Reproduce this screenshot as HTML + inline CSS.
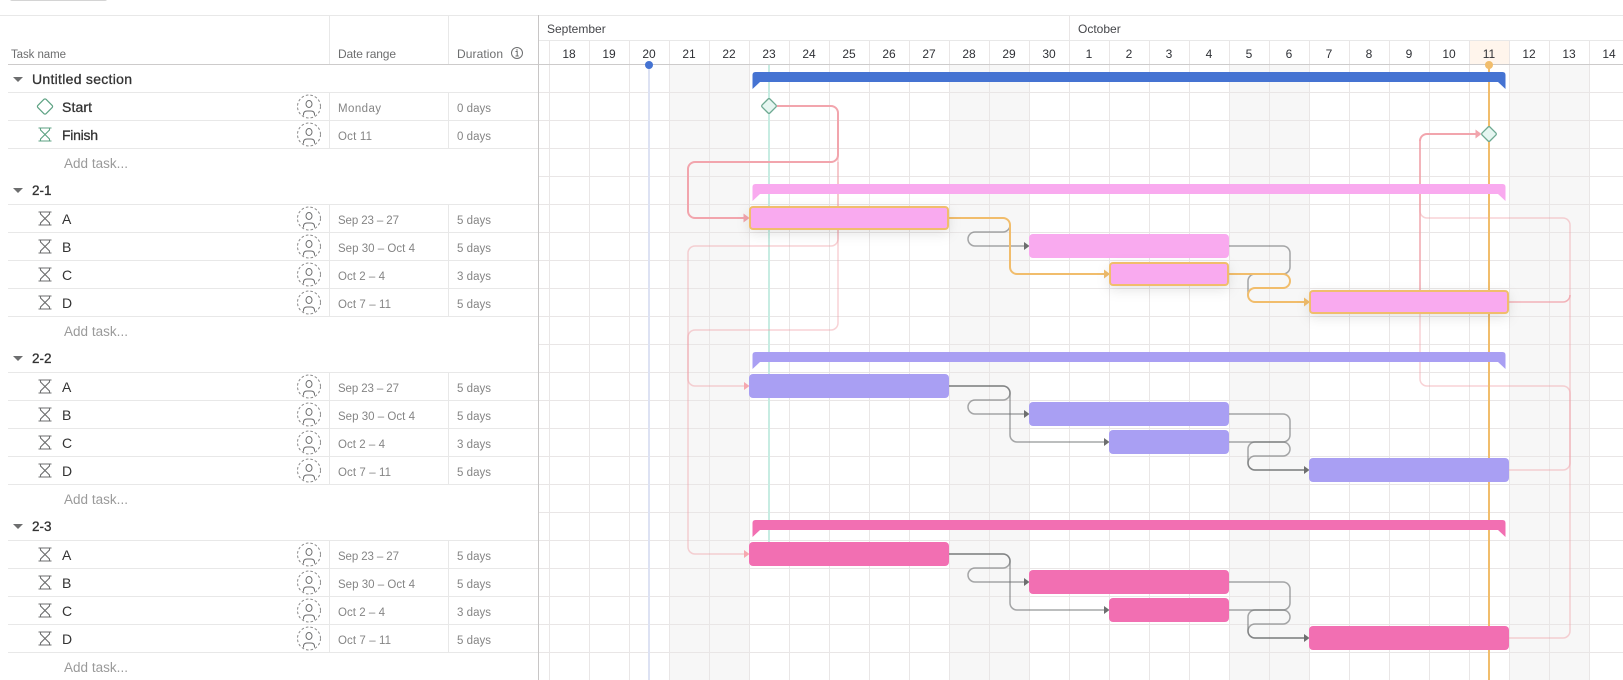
<!DOCTYPE html>
<html><head><meta charset="utf-8"><title>Gantt</title>
<style>
html,body{margin:0;padding:0;background:#fff;width:1623px;height:680px;overflow:hidden}
svg{display:block;font-family:"Liberation Sans",sans-serif}
.h{font-size:12px;fill:#6d6e6f}
.d{font-size:11.5px;fill:#858585}
.n{font-size:14px;fill:#333}
.s{font-size:14px;fill:#333;stroke:#333;stroke-width:.3px}
.s2{font-size:13.5px;fill:#333;stroke:#333;stroke-width:.3px}
.add{font-size:13.5px;fill:#9a9a9a}
.day{font-size:12px;fill:#2f3136;text-anchor:middle}
.lp{fill:none;stroke:#f0a0a8;stroke-width:1.5;opacity:.48}
.dp{fill:none;stroke:#f2a5ad;stroke-width:2}
.gr{fill:none;stroke:#6d6e6f;stroke-width:1.5;opacity:.6}
.or{fill:none;stroke:#f1bd6c;stroke-width:2}
.sh{filter:drop-shadow(0 4px 6px rgba(0,0,0,.10))}
</style></head><body>
<svg width="1623" height="680" viewBox="0 0 1623 680" xmlns="http://www.w3.org/2000/svg">
<defs>
<g id="av"><circle r="11.5" fill="#fff" stroke="#8a8a8a" stroke-width="1" stroke-dasharray="2.6 2"/><ellipse cx="0" cy="-2.5" rx="3" ry="3.5" fill="none" stroke="#6d6e6f" stroke-width="1"/><path d="M-5.5 9V8Q-5.5 4.5-2 4.5H2Q5.5 4.5 5.5 8V9" fill="none" stroke="#6d6e6f" stroke-width="1"/></g>
<path id="hg" d="M-6.5-6.5H6.5M-6.5 6.5H6.5M-4.5-6.5V-4.5L4.5 4.5V6.5M4.5-6.5V-4.5L-4.5 4.5V6.5" fill="none" stroke-width="1.1"/>
</defs>
<rect width="1623" height="680" fill="#fff"/>
<rect x="10" y="-3" width="97" height="4" rx="2" fill="#d4d4d4"/>

<!-- weekend shading -->
<g fill="#f7f7f7"><rect x="669" y="65" width="80" height="615"/><rect x="949" y="65" width="80" height="615"/><rect x="1229" y="65" width="80" height="615"/><rect x="1509" y="65" width="80" height="615"/></g>
<rect x="1469" y="41" width="40" height="23" fill="#fff5ec"/>

<!-- grid -->
<path d="M549.5 41V680M589.5 41V680M629.5 41V680M669.5 41V680M709.5 41V680M749.5 41V680M789.5 41V680M829.5 41V680M869.5 41V680M909.5 41V680M949.5 41V680M989.5 41V680M1029.5 41V680M1069.5 15V680M1109.5 41V680M1149.5 41V680M1189.5 41V680M1229.5 41V680M1269.5 41V680M1309.5 41V680M1349.5 41V680M1389.5 41V680M1429.5 41V680M1469.5 41V680M1509.5 41V680M1549.5 41V680M1589.5 41V680" stroke="#e9e6e6" stroke-width="1" fill="none"/>
<path d="M538 92.5H1623M538 120.5H1623M538 148.5H1623M538 176.5H1623M538 204.5H1623M538 232.5H1623M538 260.5H1623M538 288.5H1623M538 316.5H1623M538 344.5H1623M538 372.5H1623M538 400.5H1623M538 428.5H1623M538 456.5H1623M538 484.5H1623M538 512.5H1623M538 540.5H1623M538 568.5H1623M538 596.5H1623M538 624.5H1623M538 652.5H1623" stroke="#e9e6e6" stroke-width="1" fill="none"/>

<!-- left pane lines -->
<path d="M0 15.5H1623M538 40.5H1623" stroke="#e8e8e8" fill="none"/>
<path d="M8 92.5H538M8 120.5H538M8 148.5H538M8 204.5H538M8 232.5H538M8 260.5H538M8 288.5H538M8 316.5H538M8 372.5H538M8 400.5H538M8 428.5H538M8 456.5H538M8 484.5H538M8 540.5H538M8 568.5H538M8 596.5H538M8 624.5H538M8 652.5H538" stroke="#e8e8e8" fill="none"/>
<path d="M329.5 15V64M329.5 92V148M329.5 204V316M329.5 372V484M329.5 540V652M448.5 15V64M448.5 92V148M448.5 204V316M448.5 372V484M448.5 540V652" stroke="#e8e8e8" fill="none"/>
<path d="M8 64.5H1623" stroke="#cdcbcb" fill="none"/>
<path d="M538.5 15V680" stroke="#c8c6c6" fill="none"/>

<!-- header text -->
<text x="11" y="58" class="h" style="font-size:11.5px" textLength="55">Task name</text>
<text x="338" y="58" class="h" textLength="58">Date range</text>
<text x="457" y="58" class="h" textLength="46">Duration</text>
<g fill="none" stroke="#6d6e6f" stroke-width="1"><circle cx="517" cy="53" r="5.5"/><path d="M515.5 51.5H517.2V56M515.5 56H518.7"/></g>
<circle cx="517" cy="50" r=".7" fill="#6d6e6f"/>
<text x="547" y="33" class="h" style="fill:#45464a">September</text>
<text x="1078" y="33" class="h" style="fill:#45464a">October</text>
<g>
<text class="day" x="569" y="58">18</text><text class="day" x="609" y="58">19</text><text class="day" x="649" y="58">20</text><text class="day" x="689" y="58">21</text><text class="day" x="729" y="58">22</text><text class="day" x="769" y="58">23</text><text class="day" x="809" y="58">24</text><text class="day" x="849" y="58">25</text><text class="day" x="889" y="58">26</text><text class="day" x="929" y="58">27</text><text class="day" x="969" y="58">28</text><text class="day" x="1009" y="58">29</text><text class="day" x="1049" y="58">30</text><text class="day" x="1089" y="58">1</text><text class="day" x="1129" y="58">2</text><text class="day" x="1169" y="58">3</text><text class="day" x="1209" y="58">4</text><text class="day" x="1249" y="58">5</text><text class="day" x="1289" y="58">6</text><text class="day" x="1329" y="58">7</text><text class="day" x="1369" y="58">8</text><text class="day" x="1409" y="58">9</text><text class="day" x="1449" y="58">10</text><text class="day" x="1489" y="58">11</text><text class="day" x="1529" y="58">12</text><text class="day" x="1569" y="58">13</text><text class="day" x="1609" y="58">14</text>
</g>

<!-- section triangles -->
<g fill="#6d6e6f"><path d="M13 77H23L18 82Z"/><path d="M13 188H23L18 193Z"/><path d="M13 356H23L18 361Z"/><path d="M13 524H23L18 529Z"/></g>

<!-- sections -->
<text x="32" y="84" class="s" textLength="100">Untitled section</text>
<text x="32" y="195" class="s2">2-1</text>
<text x="32" y="363" class="s2">2-2</text>
<text x="32" y="531" class="s2">2-3</text>

<!-- icons column -->
<rect x="-5.8" y="-5.8" width="11.6" height="11.6" rx="1.5" transform="translate(45 106.5) rotate(45)" fill="none" stroke="#5da283" stroke-width="1.2"/>
<use href="#hg" x="45" y="134.5" stroke="#5da283"/>
<g stroke="#6d6e6f">
<use href="#hg" x="45" y="218.5"/><use href="#hg" x="45" y="246.5"/><use href="#hg" x="45" y="274.5"/><use href="#hg" x="45" y="302.5"/>
<use href="#hg" x="45" y="386.5"/><use href="#hg" x="45" y="414.5"/><use href="#hg" x="45" y="442.5"/><use href="#hg" x="45" y="470.5"/>
<use href="#hg" x="45" y="554.5"/><use href="#hg" x="45" y="582.5"/><use href="#hg" x="45" y="610.5"/><use href="#hg" x="45" y="638.5"/>
</g>

<!-- avatars -->
<use href="#av" x="309" y="106.5"/><use href="#av" x="309" y="134.5"/>
<use href="#av" x="309" y="218.5"/><use href="#av" x="309" y="246.5"/><use href="#av" x="309" y="274.5"/><use href="#av" x="309" y="302.5"/>
<use href="#av" x="309" y="386.5"/><use href="#av" x="309" y="414.5"/><use href="#av" x="309" y="442.5"/><use href="#av" x="309" y="470.5"/>
<use href="#av" x="309" y="554.5"/><use href="#av" x="309" y="582.5"/><use href="#av" x="309" y="610.5"/><use href="#av" x="309" y="638.5"/>

<!-- task names -->
<text x="62" y="112" class="s" textLength="30">Start</text>
<text x="62" y="140" class="s" textLength="36">Finish</text>
<text x="64" y="168" class="add" textLength="64">Add task...</text>
<text x="62" y="224" class="n">A</text><text x="62" y="252" class="n">B</text><text x="62" y="280" class="n">C</text><text x="62" y="308" class="n">D</text>
<text x="64" y="336" class="add" textLength="64">Add task...</text>
<text x="62" y="392" class="n">A</text><text x="62" y="420" class="n">B</text><text x="62" y="448" class="n">C</text><text x="62" y="476" class="n">D</text>
<text x="64" y="504" class="add" textLength="64">Add task...</text>
<text x="62" y="560" class="n">A</text><text x="62" y="588" class="n">B</text><text x="62" y="616" class="n">C</text><text x="62" y="644" class="n">D</text>
<text x="64" y="672" class="add" textLength="64">Add task...</text>

<!-- dates -->
<text x="338" y="112" class="d" textLength="43">Monday</text><text x="457" y="112" class="d" textLength="34">0 days</text>
<text x="338" y="140" class="d" textLength="34">Oct 11</text><text x="457" y="140" class="d" textLength="34">0 days</text>

<text x="338" y="224" class="d" textLength="61">Sep 23 – 27</text><text x="457" y="224" class="d" textLength="34">5 days</text>
<text x="338" y="252" class="d" textLength="77">Sep 30 – Oct 4</text><text x="457" y="252" class="d" textLength="34">5 days</text>
<text x="338" y="280" class="d" textLength="47">Oct 2 – 4</text><text x="457" y="280" class="d" textLength="34">3 days</text>
<text x="338" y="308" class="d" textLength="53">Oct 7 – 11</text><text x="457" y="308" class="d" textLength="34">5 days</text>

<text x="338" y="392" class="d" textLength="61">Sep 23 – 27</text><text x="457" y="392" class="d" textLength="34">5 days</text>
<text x="338" y="420" class="d" textLength="77">Sep 30 – Oct 4</text><text x="457" y="420" class="d" textLength="34">5 days</text>
<text x="338" y="448" class="d" textLength="47">Oct 2 – 4</text><text x="457" y="448" class="d" textLength="34">3 days</text>
<text x="338" y="476" class="d" textLength="53">Oct 7 – 11</text><text x="457" y="476" class="d" textLength="34">5 days</text>

<text x="338" y="560" class="d" textLength="61">Sep 23 – 27</text><text x="457" y="560" class="d" textLength="34">5 days</text>
<text x="338" y="588" class="d" textLength="77">Sep 30 – Oct 4</text><text x="457" y="588" class="d" textLength="34">5 days</text>
<text x="338" y="616" class="d" textLength="47">Oct 2 – 4</text><text x="457" y="616" class="d" textLength="34">3 days</text>
<text x="338" y="644" class="d" textLength="53">Oct 7 – 11</text><text x="457" y="644" class="d" textLength="34">5 days</text>

<!-- today / start lines -->
<path d="M649 65V680" stroke="#dde2f3" stroke-width="2"/>
<circle cx="649" cy="65" r="4" fill="#4573d2"/>
<path d="M769 65V554" stroke="#c7ece2" stroke-width="2"/>

<!-- light dependency connectors -->
<path class="lp" d="M777 106H831a7 7 0 0 1 7 7V239a7 7 0 0 1-7 7H695a7 7 0 0 0-7 7V547a7 7 0 0 0 7 7H744"/>
<path class="lp" d="M838 162V323a7 7 0 0 1-7 7H695a7 7 0 0 0-7 7V379a7 7 0 0 0 7 7H744"/>
<path class="lp" d="M1509 470H1563a7 7 0 0 0 7-7V393a7 7 0 0 0-7-7H1427a7 7 0 0 1-7-7V140"/>
<path class="lp" d="M1509 638H1563a7 7 0 0 0 7-7V225a7 7 0 0 0-7-7H1427a7 7 0 0 1-7-7V140"/>
<path d="M744 382L749.5 386L744 390Z" fill="#f6a8b0"/>
<path d="M744 550L749.5 554L744 558Z" fill="#f6a8b0"/>

<!-- highlighted red connectors -->
<path class="dp" d="M777 106H831a7 7 0 0 1 7 7V155a7 7 0 0 1-7 7H695a7 7 0 0 0-7 7V211a7 7 0 0 0 7 7H744"/>
<path d="M743.5 213.5L749.5 218L743.5 222.5Z" fill="#f2a5ad"/>
<path class="lp" style="opacity:.75" d="M1420 290V141"/>
<path class="dp" d="M1420 141a7 7 0 0 1 7-7H1476"/>
<path class="lp" style="opacity:.8" d="M1509 302H1563a7 7 0 0 0 7-7"/>
<path d="M1475.5 129.5L1481.5 134L1475.5 138.5Z" fill="#f2a5ad"/>

<!-- grey connectors 2-1 -->
<path class="gr" d="M1010 225a7 7 0 0 1-7 7H975a7 7 0 0 0 0 14H1024"/>
<path class="gr" d="M1229 246H1283a7 7 0 0 1 7 7V267a7 7 0 0 1-7 7H1255a7 7 0 0 0-7 7V295"/>
<path d="M1024 242L1029.5 246L1024 250Z" fill="#6d6e6f"/>

<!-- orange connectors 2-1 -->
<path class="or" d="M949 218H1003a7 7 0 0 1 7 7V267a7 7 0 0 0 7 7H1104"/>
<path class="or" d="M1229 274H1283a7 7 0 0 1 0 14H1255a7 7 0 0 0 0 14H1304"/>
<path d="M1104 269.5L1110 274L1104 278.5Z" fill="#f1bd6c"/>
<path d="M1304 297.5L1310 302L1304 306.5Z" fill="#f1bd6c"/>

<!-- grey connectors 2-2 -->
<path class="gr" d="M949 386H1003a7 7 0 0 1 0 14H975a7 7 0 0 0 0 14H1024"/>
<path class="gr" d="M949 386H1003a7 7 0 0 1 7 7V435a7 7 0 0 0 7 7H1104"/>
<path class="gr" d="M1229 414H1283a7 7 0 0 1 7 7V435a7 7 0 0 1-7 7H1255a7 7 0 0 0-7 7V463a7 7 0 0 0 7 7H1304"/>
<path class="gr" d="M1229 442H1283a7 7 0 0 1 0 14H1255a7 7 0 0 0 0 14H1304"/>
<g fill="#6d6e6f"><path d="M1024 410L1029.5 414L1024 418Z"/><path d="M1104 438L1109.5 442L1104 446Z"/><path d="M1304 466L1309.5 470L1304 474Z"/></g>

<!-- grey connectors 2-3 -->
<path class="gr" d="M949 554H1003a7 7 0 0 1 0 14H975a7 7 0 0 0 0 14H1024"/>
<path class="gr" d="M949 554H1003a7 7 0 0 1 7 7V603a7 7 0 0 0 7 7H1104"/>
<path class="gr" d="M1229 582H1283a7 7 0 0 1 7 7V603a7 7 0 0 1-7 7H1255a7 7 0 0 0-7 7V631a7 7 0 0 0 7 7H1304"/>
<path class="gr" d="M1229 610H1283a7 7 0 0 1 0 14H1255a7 7 0 0 0 0 14H1304"/>
<g fill="#6d6e6f"><path d="M1024 578L1029.5 582L1024 586Z"/><path d="M1104 606L1109.5 610L1104 614Z"/><path d="M1304 634L1309.5 638L1304 642Z"/></g>

<!-- finish date line -->
<path d="M1489 65V680" stroke="#f1bd6c" stroke-width="2"/>
<circle cx="1489" cy="65" r="4" fill="#f1bd6c"/>

<!-- section summary bars -->
<path d="M752.5 75q0-3 3-3H1502.5q3 0 3 3V89L1498 82H760L752.5 89Z" fill="#4573d2"/>
<path d="M752.5 187q0-3 3-3H1502.5q3 0 3 3V201L1498 194H760L752.5 201Z" fill="#f9aaef"/>
<path d="M752.5 355q0-3 3-3H1502.5q3 0 3 3V369L1498 362H760L752.5 369Z" fill="#a99ff3"/>
<path d="M752.5 523q0-3 3-3H1502.5q3 0 3 3V537L1498 530H760L752.5 537Z" fill="#f26fb2"/>

<!-- task bars 2-1 -->
<rect class="sh" x="750" y="207" width="198" height="22" rx="3" fill="#f9aaef" stroke="#f1bd6c" stroke-width="2"/>
<rect x="1029" y="234" width="200" height="24" rx="4" fill="#f9aaef"/>
<rect class="sh" x="1110" y="263" width="118" height="22" rx="3" fill="#f9aaef" stroke="#f1bd6c" stroke-width="2"/>
<rect class="sh" x="1310" y="291" width="198" height="22" rx="3" fill="#f9aaef" stroke="#f1bd6c" stroke-width="2"/>
<!-- task bars 2-2 -->
<rect x="749" y="374" width="200" height="24" rx="4" fill="#a99ff3"/>
<rect x="1029" y="402" width="200" height="24" rx="4" fill="#a99ff3"/>
<rect x="1109" y="430" width="120" height="24" rx="4" fill="#a99ff3"/>
<rect x="1309" y="458" width="200" height="24" rx="4" fill="#a99ff3"/>
<!-- task bars 2-3 -->
<rect x="749" y="542" width="200" height="24" rx="4" fill="#f26fb2"/>
<rect x="1029" y="570" width="200" height="24" rx="4" fill="#f26fb2"/>
<rect x="1109" y="598" width="120" height="24" rx="4" fill="#f26fb2"/>
<rect x="1309" y="626" width="200" height="24" rx="4" fill="#f26fb2"/>

<!-- milestones -->
<rect x="-5.6" y="-5.6" width="11.2" height="11.2" rx="1.5" transform="translate(769 106) rotate(45)" fill="#e6f6f1" stroke="#6ea992" stroke-width="1.3"/>
<rect x="-5.6" y="-5.6" width="11.2" height="11.2" rx="1.5" transform="translate(1489 134) rotate(45)" fill="#e6f6f1" stroke="#6ea992" stroke-width="1.3"/>
</svg>
</body></html>
